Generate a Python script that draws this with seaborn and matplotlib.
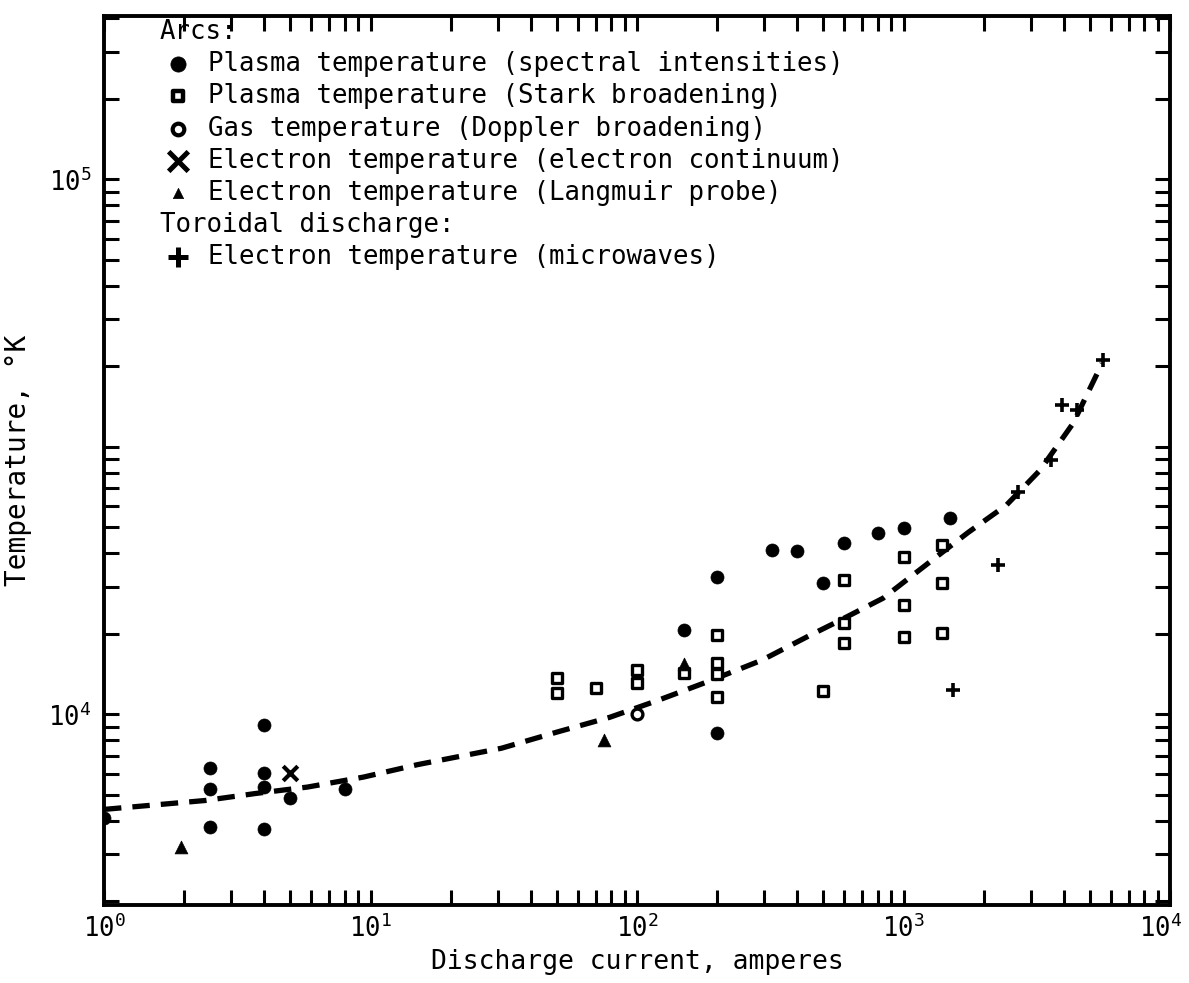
import numpy as np
import pandas as pd
import matplotlib
matplotlib.use("Agg")
import matplotlib.pyplot as plt
import matplotlib.ticker as mticker
import matplotlib.transforms as mtransforms
import seaborn as sns

# ---------------- data ----------------
spec_x = [1.0, 2.5, 2.5, 2.5, 4, 4, 4, 4, 5, 8, 150, 200, 200, 320, 400, 500, 600, 800, 1000, 1500]
spec_y = [6400, 7930, 7240, 6150, 9540, 7760, 7310, 6100, 6960, 7240, 14360, 18030, 9210,
          20270, 20200, 17580, 20880, 21790, 22280, 23230]

stark_x = [50, 50, 70, 100, 100, 150, 200, 200, 200, 200, 500, 600, 600, 600,
           1000, 1000, 1000, 1400, 1400, 1400]
stark_y = [11670, 10950, 11180, 12080, 11430, 11930, 14050, 12450, 11880, 10760, 11040,
           17800, 14790, 13580, 19640, 15990, 13930, 20700, 17580, 14170]

doppler_x = [100]
doppler_y = [10020]

cont_x = [5]
cont_y = [7760]

lang_x = [1.95, 75, 150]
lang_y = [5640, 8940, 12400]

micro_x = [1530, 2260, 2690, 3575, 3935, 4480, 5600]
micro_y = [11090, 18990, 26000, 29860, 37860, 36980, 45900]

curve_x = [1.0, 2.4, 3.7, 5.8, 9.4, 15, 31, 50, 79, 120, 182, 294, 446, 549,
           838, 1320, 1750, 2430, 3250, 4330, 5560]
curve_y = [6640, 6900, 7110, 7310, 7630, 8050, 8640, 9260, 9870, 10620, 11480,
           12620, 14050, 14790, 16480, 19640, 21880, 24590, 28580, 34990, 45280]

x_major = [1, 10, 100, 1000, 10000]
x_labels = [r"$10^{0}$", r"$10^{1}$", r"$10^{2}$", r"$10^{3}$", r"$10^{4}$"]
y_major = [1e4, 1e5]
y_labels = [r"$10^{4}$", r"$10^{5}$"]

legend_rows = [
    ("header", None, "Arcs:"),
    ("item", "spec", "Plasma temperature (spectral intensities)"),
    ("item", "stark", "Plasma temperature (Stark broadening)"),
    ("item", "doppler", "Gas temperature (Doppler broadening)"),
    ("item", "cont", "Electron temperature (electron continuum)"),
    ("item", "lang", "Electron temperature (Langmuir probe)"),
    ("header", None, "Toroidal discharge:"),
    ("item", "micro", "Electron temperature (microwaves)"),
]

# ---------------- style ----------------
sns.set_style("ticks")
plt.rcParams["font.family"] = ["DejaVu Sans Mono", "DejaVu Sans"]
plt.rcParams["mathtext.fontset"] = "custom"
plt.rcParams["mathtext.rm"] = "DejaVu Sans Mono"
plt.rcParams["mathtext.it"] = "DejaVu Sans Mono"
plt.rcParams["mathtext.bf"] = "DejaVu Sans Mono"
for k in ["text.color", "axes.labelcolor", "xtick.color", "ytick.color", "axes.edgecolor"]:
    plt.rcParams[k] = "black"

FS = 18.5
W, H = 1189, 983
fig = plt.figure(figsize=(W / 100, H / 100), dpi=100)
L, R, T, B = 104, 1170, 16, 905
ax = fig.add_axes([L / W, 1 - B / H, (R - L) / W, (B - T) / H])
ax.set_xscale("log")
ax.set_yscale("log")

blk = "black"
sns.scatterplot(x=spec_x, y=spec_y, ax=ax, marker="o", s=88, color=blk, edgecolor=blk,
                linewidth=0.5, zorder=4)
sns.scatterplot(x=stark_x, y=stark_y, ax=ax, marker="s", s=60, color="white", edgecolor=blk,
                linewidth=2.4, zorder=4)
sns.scatterplot(x=doppler_x, y=doppler_y, ax=ax, marker="o", s=60, color="white",
                edgecolor=blk, linewidth=2.4, zorder=4)
sns.scatterplot(x=cont_x, y=cont_y, ax=ax, marker="x", s=110, color=blk, edgecolor=blk,
                linewidth=3, zorder=4)
sns.scatterplot(x=lang_x, y=lang_y, ax=ax, marker="^", s=85, color=blk, edgecolor=blk,
                linewidth=0.5, zorder=4)
sns.scatterplot(x=micro_x, y=micro_y, ax=ax, marker="+", s=110, color=blk, edgecolor=blk,
                linewidth=2.6, zorder=4)
sns.lineplot(x=curve_x, y=curve_y, ax=ax, color=blk, linewidth=3.8,
             linestyle=(0, (3.3, 2.1)), zorder=3)

ax.set_xlim(1, 1e4)
ax.set_ylim(4400, 2.02e5)

# ticks
ax.xaxis.set_major_locator(mticker.FixedLocator(x_major))
ax.xaxis.set_major_formatter(mticker.FixedFormatter(x_labels))
ax.xaxis.set_minor_locator(mticker.LogLocator(base=10, subs=np.arange(2, 10), numticks=30))
ax.xaxis.set_minor_formatter(mticker.NullFormatter())

cyc = []
for top in 10 ** np.arange(3.5, 6.0, 0.5):
    for p in range(2, 10):
        cyc.append(top * np.sqrt(p / 10.0))
cyc.append(10 ** 4.5)
cyc = [v for v in cyc if 4400 < v < 2.02e5]
ax.yaxis.set_major_locator(mticker.FixedLocator(y_major))
ax.yaxis.set_major_formatter(mticker.FixedFormatter(y_labels))
ax.yaxis.set_minor_locator(mticker.FixedLocator(cyc))
ax.yaxis.set_minor_formatter(mticker.NullFormatter())

ax.tick_params(which="both", direction="in", top=True, right=True, length=11, width=2.2,
               labelsize=FS, colors=blk)
ax.tick_params(axis="x", which="both", pad=7)
ax.tick_params(axis="y", which="both", pad=9)
for sp in ax.spines.values():
    sp.set_linewidth(2.8)
    sp.set_color(blk)

# keep the last x tick label inside the figure
last = ax.get_xticklabels()[-1]
last.set_horizontalalignment("right")
last.set_transform(last.get_transform() +
                   mtransforms.ScaledTranslation(0.12, 0, fig.dpi_scale_trans))

ax.set_xlabel("Discharge current, amperes", fontsize=19, labelpad=4)
ax.set_ylabel("Temperature, °K", fontsize=20, labelpad=12)

# legend block (manual, upper left)
def ay(py):
    return 1 - (py - T) / (B - T)

def axx(px):
    return (px - L) / (R - L)

marker_style = {
    "spec": dict(marker="o", s=120, c=blk, edgecolors=blk, linewidths=0.5),
    "stark": dict(marker="s", s=55, c="white", edgecolors=blk, linewidths=3.2),
    "doppler": dict(marker="o", s=70, c="white", edgecolors=blk, linewidths=3.0),
    "cont": dict(marker="x", s=200, c=blk, linewidths=3.6),
    "lang": dict(marker="^", s=55, c=blk, edgecolors=blk, linewidths=0.5),
    "micro": dict(marker="+", s=220, c=blk, linewidths=3.6),
}
row_y0, row_dy = 32, 32.2
for i, (kind, key, label) in enumerate(legend_rows):
    yy = ay(row_y0 + i * row_dy)
    if kind == "header":
        ax.text(axx(160), yy, label, transform=ax.transAxes, fontsize=FS,
                va="center", ha="left")
    else:
        ax.scatter([axx(178)], [yy], transform=ax.transAxes, clip_on=False, zorder=5,
                   **marker_style[key])
        ax.text(axx(208), yy, label, transform=ax.transAxes, fontsize=FS,
                va="center", ha="left")

fig.savefig("out.png", dpi=100)
